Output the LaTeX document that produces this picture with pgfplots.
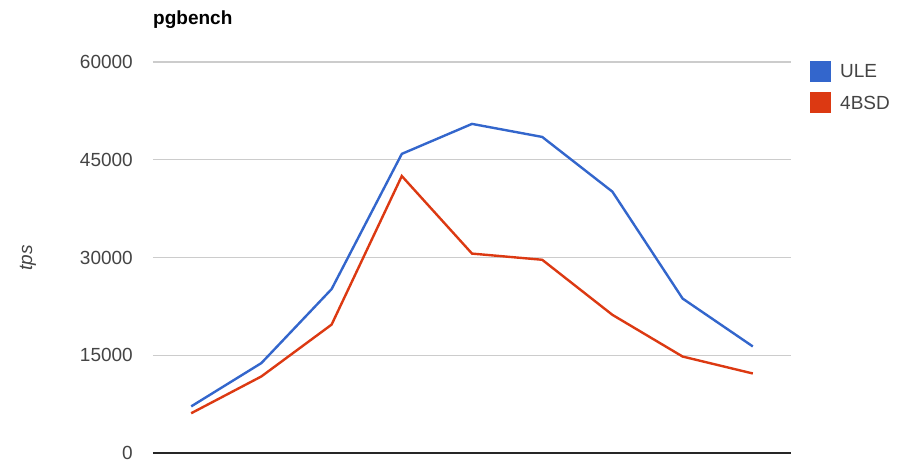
\documentclass[border=0pt]{standalone}
\usepackage{pgfplots}
\pgfplotsset{compat=1.18}
\usepackage{fontspec}
\setmainfont{Liberation Sans}
\definecolor{ule}{HTML}{3366CC}
\definecolor{bsd}{HTML}{DC3912}
\definecolor{gridc}{HTML}{CCCCCC}
\definecolor{tickc}{HTML}{444444}
\begin{document}
\begin{tikzpicture}[x=1bp,y=1bp]
\useasboundingbox (-153,-8) rectangle (746,453);
\begin{axis}[
  at={(0,0)}, anchor=south west,
  scale only axis, width=638bp, height=391bp,
  xmin=-0.544, xmax=8.544,
  ymin=0, ymax=60000,
  ytick={0,15000,30000,45000,60000},
  xtick=\empty,
  axis line style={draw=none},
  ymajorgrids, grid style={gridc, line width=1.2bp},
  major tick length=0pt,
  scaled y ticks=false,
  /pgf/number format/assume math mode=true,
  yticklabel={\pgfmathprintnumber[fixed,1000 sep={}]{\tick}},
  yticklabel style={inner sep=0pt, anchor=east, xshift=-20bp, text=tickc, font=\fontsize{19bp}{22bp}\selectfont},
  clip=false,
]
\draw[black!85, line width=2bp] (axis cs:-0.544,0) -- (axis cs:8.544,0);
\addplot[ule, line width=2.4bp] coordinates {
 (0,7150) (1,13800) (2,25150) (3,45900) (4,50500) (5,48500) (6,40100) (7,23700) (8,16350)};
\addplot[bsd, line width=2.4bp] coordinates {
 (0,6100) (1,11750) (2,19700) (3,42500) (4,30600) (5,29650) (6,21200) (7,14800) (8,12200)};
\end{axis}
\node[anchor=base west, inner sep=0pt, font=\fontsize{19bp}{22bp}\selectfont\bfseries] at (0,428) {pgbench};
\node[rotate=90, inner sep=0pt, text=tickc, font=\fontsize{19bp}{22bp}\selectfont\itshape] at (-125,195) {tps};
\fill[ule] (657,371) rectangle (678,392);
\fill[bsd] (657,340) rectangle (678,361);
\node[anchor=west, inner sep=0pt, text=tickc, font=\fontsize{19bp}{22bp}\selectfont] at (687,381.5) {ULE};
\node[anchor=west, inner sep=0pt, text=tickc, font=\fontsize{19bp}{22bp}\selectfont] at (687,350.5) {4BSD};
\end{tikzpicture}
\end{document}
